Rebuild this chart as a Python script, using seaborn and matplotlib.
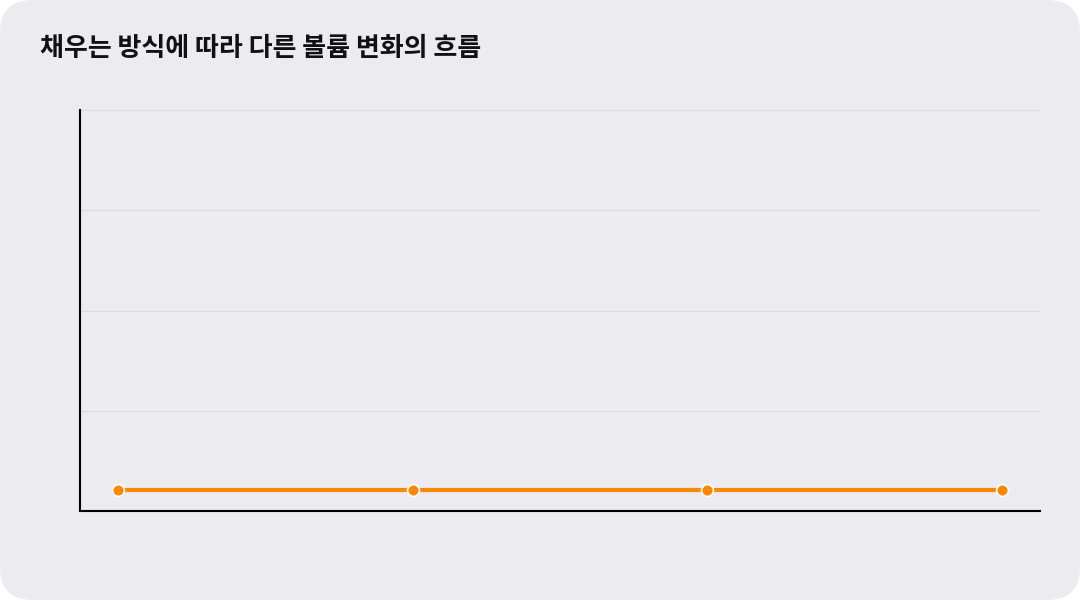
import matplotlib
matplotlib.use("Agg")
import matplotlib.pyplot as plt
from matplotlib.patches import FancyBboxPatch
import seaborn as sns
import pandas as pd

sns.set_theme(style="whitegrid")
plt.rcParams['font.family'] = ['Noto Sans CJK KR', 'DejaVu Sans']

# data
steps = ["1", "2", "3", "4"]
volume = [5.2, 5.2, 5.2, 5.2]
df = pd.DataFrame({"step": steps, "volume": volume})

bg = "#ECEBF0"
fig = plt.figure(figsize=(10.8, 6), dpi=100, facecolor="white")
fig.patches.append(FancyBboxPatch((0, 0), 1, 1, boxstyle="round,pad=0,rounding_size=0.03",
                                  transform=fig.transFigure, facecolor=bg, edgecolor="none",
                                  mutation_aspect=1.8, zorder=-10))

ax = fig.add_axes([80/1080, 1 - 511/600, 960/1080, 401/600])
ax.set_facecolor("none")

sns.lineplot(data=df, x="step", y="volume", ax=ax, color="#FF8800", linewidth=3,
             marker="o", markersize=8.5, markeredgecolor="white", markeredgewidth=1.2)

ax.set_xlim(-0.13, 3.13)
ax.set_ylim(0, 100)
ax.set_yticks([0, 25, 50, 75, 100])
ax.grid(axis="y", color="#DCDBE0", linewidth=0.8)
ax.grid(axis="x", visible=False)
ax.tick_params(left=False, bottom=False, labelleft=False, labelbottom=False)
ax.set_xlabel("")
ax.set_ylabel("")
for s in ["top", "right"]:
    ax.spines[s].set_visible(False)
for s in ["left", "bottom"]:
    ax.spines[s].set_color("black")
    ax.spines[s].set_linewidth(1.5)

fig.text(40/1080, 1 - 48/600, "채우는 방식에 따라 다른 볼륨 변화의 흐름", fontsize=18.7,
         fontweight="bold", va="center", ha="left", color="#111111")

fig.savefig("out.png", dpi=100, facecolor="white")
